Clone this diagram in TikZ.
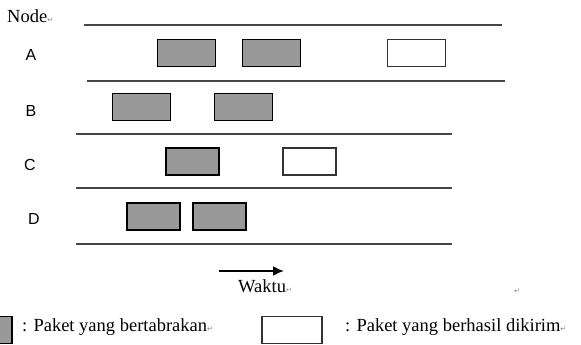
\documentclass[tikz,border=0pt]{standalone}
\usepackage{fontspec}
\setmainfont{Liberation Serif}
\setsansfont{Liberation Sans}
\newfontfamily\symfont{DejaVu Sans}
\usetikzlibrary{arrows}
\usetikzlibrary{arrows.meta}
\usetikzlibrary{calc}
\definecolor{PacketGray}{RGB}{153,153,153}
\definecolor{LineGray}{RGB}{70,70,70}
\newcommand{\parmark}{{\symfont\fontsize{7}{7}\selectfont\textcolor{gray}{↵}}}
\tikzstyle{PacketBox}=[rectangle, draw=black, line width=1.6pt, inner sep=0pt, minimum width=58pt, minimum height=27pt]
\tikzstyle{CollidedPacket}=[PacketBox, fill=PacketGray]
\tikzstyle{SentPacket}=[PacketBox, draw=black!80, fill=white]
\tikzstyle{TimeLine}=[draw=LineGray, line width=1.8pt]
\tikzstyle{TimeArrow}=[-{Latex[length=11pt,width=10pt]}, line width=2pt]
\tikzstyle{NodeLabel}=[font=\sffamily\fontsize{16}{16}\selectfont, anchor=base]
\tikzstyle{SerifText}=[font=\fontsize{18.5}{18.5}\selectfont, anchor=base west, inner sep=0pt]
\tikzset{>=latex}

\begin{document}
\begin{tikzpicture}[x=1pt, y=-1pt]
\useasboundingbox (0,0) rectangle (581,345);

\node[SerifText](NodeTitle) at (7,23) {Node\parmark};

% rows
\draw[TimeLine] (84,25) -- (502,25);
\draw[TimeLine] (87,81) -- (505,81);
\draw[TimeLine] (76,134) -- (452,134);
\draw[TimeLine] (76,188) -- (452,188);
\draw[TimeLine] (76,244) -- (452,244);

\node[NodeLabel](LabA) at (31,61) {A};
\node[NodeLabel](LabB) at (31,116) {B};
\node[NodeLabel](LabC) at (30,170) {C};
\node[NodeLabel](LabD) at (34,224) {D};

\node[CollidedPacket](A1) at (186.5,53) {};
\node[CollidedPacket](A2) at (271.5,53) {};
\node[SentPacket](A3) at (416.5,53) {};

\node[CollidedPacket](B1) at (141.5,107) {};
\node[CollidedPacket](B2) at (243.5,107) {};

\node[CollidedPacket, minimum width=53pt](C1) at (192.5,161.5) {};
\node[SentPacket, minimum width=53pt](C2) at (309.5,161.5) {};

\node[CollidedPacket, minimum width=53pt](D1) at (153.5,216.5) {};
\node[CollidedPacket, minimum width=53pt](D2) at (219.5,216.5) {};

% time axis
\coordinate (TStart) at (219,271);
\coordinate (TEnd) at (284,271);
\draw[TimeArrow] (TStart) -- (TEnd);
\node[SerifText](Waktu) at (238,292) {Waktu\parmark};
\node[SerifText](Stray) at (514,293) {\parmark};

% legend
\node[CollidedPacket](KeyGray) at (-17,330) {};
\node[SerifText](KeyGrayText) at (22,331) {: Paket yang bertabrakan\parmark};
\node[SentPacket, minimum width=60pt](KeyWhite) at (292,330) {};
\node[SerifText](KeyWhiteText) at (345,331) {: Paket yang berhasil dikirim\parmark};
\end{tikzpicture}
\end{document}
